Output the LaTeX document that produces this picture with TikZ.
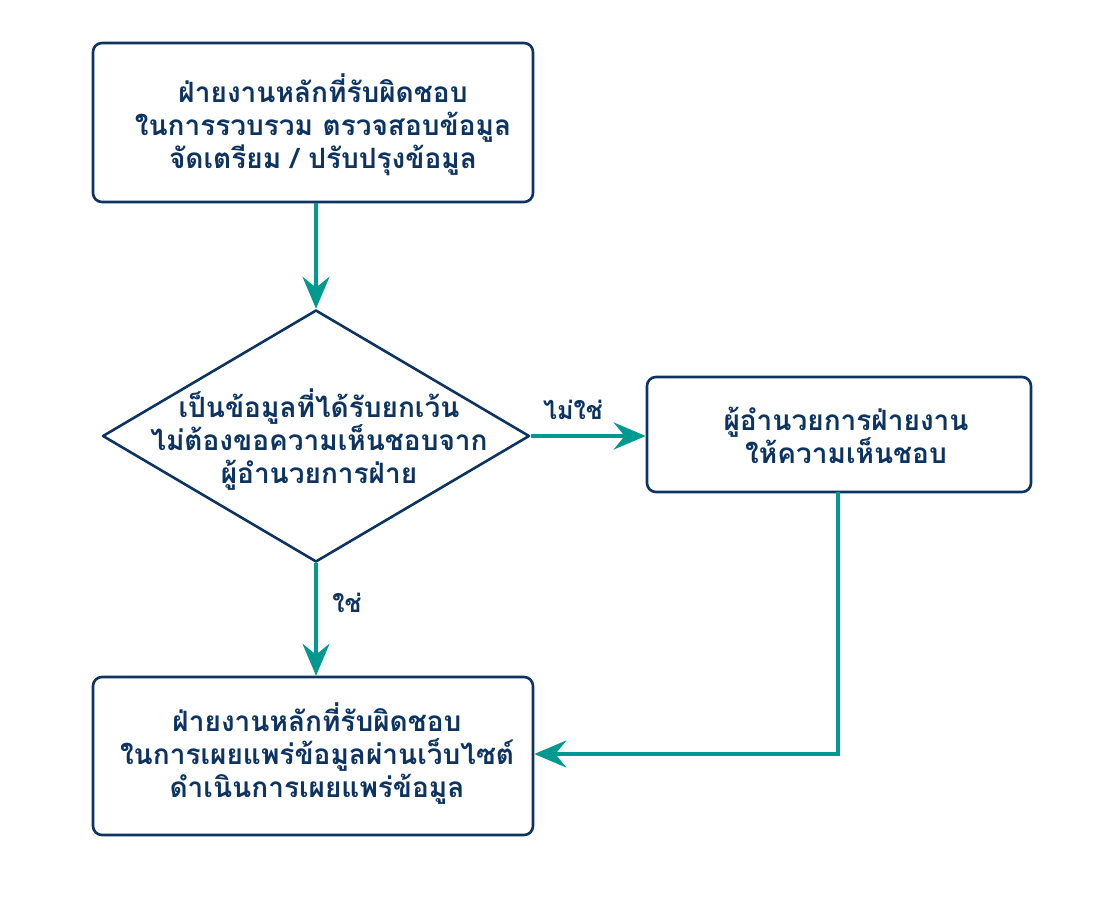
\documentclass[tikz,border=0pt]{standalone}
\usepackage{fontspec}
\newfontfamily\thai[Script=Thai]{Loma}
\usetikzlibrary{shapes.geometric,arrows.meta}
\definecolor{navy}{HTML}{0D3361}
\definecolor{teal}{HTML}{00998F}
\tikzset{
  box/.style={draw=navy,line width=2.6pt,rounded corners=9pt,inner sep=0pt},
  txt/.style={text=navy,align=center,font=\thai\bfseries\fontsize{28}{33}\selectfont},
  lbl/.style={text=navy,font=\thai\bfseries\fontsize{25}{30}\selectfont},
  conn/.style={draw=teal,line width=3.5pt,-{Stealth[length=32pt,width=27pt,inset=11pt]}}
}
\begin{document}
\begin{tikzpicture}[x=1pt,y=-1pt]
\useasboundingbox (0,0) rectangle (1114,900);
\node[box,minimum width=440pt,minimum height=159pt] (b1) at (313,122.5) {};
\node[txt] at (323,125) {ฝ่ายงานหลักที่รับผิดชอบ\\ในการรวบรวม ตรวจสอบข้อมูล\\จัดเตรียม / ปรับปรุงข้อมูล};
\node[diamond,draw=navy,line width=2.6pt,line join=round,inner sep=0pt,minimum width=427pt,minimum height=252pt] (d) at (316,436) {};
\node[txt] at (319,440) {เป็นข้อมูลที่ได้รับยกเว้น\\ไม่ต้องขอความเห็นชอบจาก\\ผู้อำนวยการฝ่าย};
\node[box,minimum width=384pt,minimum height=115pt] (r) at (839,434.5) {};
\node[txt] at (846,435) {ผู้อำนวยการฝ่ายงาน\\ให้ความเห็นชอบ};
\node[box,minimum width=440pt,minimum height=158pt] (b2) at (313,756) {};
\node[txt] at (317,754) {ฝ่ายงานหลักที่รับผิดชอบ\\ในการเผยแพร่ข้อมูลผ่านเว็บไซต์\\ดำเนินการเผยแพร่ข้อมูล};
\coordinate (rb) at (838,492);
\coordinate (corner) at (838,754);
\draw[conn] (d.north |- b1.south) -- (d.north);
\draw[conn] (d.south) -- (d.south |- b2.north);
\draw[conn] (d.east) -- (d.east -| r.west);
\draw[conn] (rb) -- (corner) -- (b2.east |- corner);
\node[lbl] (no) at (573,410) {ไม่ใช่};
\node[lbl] (yes) at (347,603) {ใช่};
\end{tikzpicture}
\end{document}
